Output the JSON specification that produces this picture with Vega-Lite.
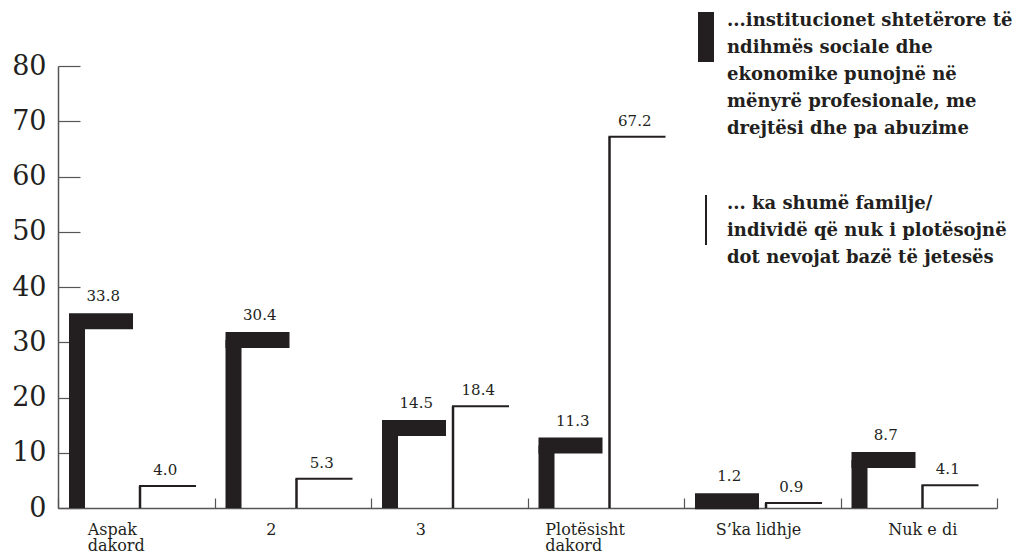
{
  "$schema": "https://vega.github.io/schema/vega-lite/v6.json",
  "width": 939,
  "height": 442,
  "autosize": {"type": "none"},
  "padding": {"left": 58, "top": 66, "right": 26, "bottom": 47},
  "background": "white",
  "config": {
    "view": {"stroke": null},
    "font": "DejaVu Serif",
    "text": {"font": "DejaVu Serif", "color": "#231f20"}
  },
  "data": {
    "values": [
      {"cat": "Aspak dakord", "series": "A", "value": 33.8},
      {"cat": "Aspak dakord", "series": "B", "value": 4.0},
      {"cat": "2", "series": "A", "value": 30.4},
      {"cat": "2", "series": "B", "value": 5.3},
      {"cat": "3", "series": "A", "value": 14.5},
      {"cat": "3", "series": "B", "value": 18.4},
      {"cat": "Plotësisht dakord", "series": "A", "value": 11.3},
      {"cat": "Plotësisht dakord", "series": "B", "value": 67.2},
      {"cat": "S’ka lidhje", "series": "A", "value": 1.2},
      {"cat": "S’ka lidhje", "series": "B", "value": 0.9},
      {"cat": "Nuk e di", "series": "A", "value": 8.7},
      {"cat": "Nuk e di", "series": "B", "value": 4.1}
    ]
  },
  "encoding": {
    "x": {
      "field": "cat",
      "type": "nominal",
      "sort": null,
      "scale": {"domain": ["Aspak dakord", "2", "3", "Plotësisht dakord", "S’ka lidhje", "Nuk e di"], "paddingInner": 0, "paddingOuter": 0},
      "axis": {
        "title": null,
        "labelAngle": 0,
        "domainColor": "#555555",
        "domainWidth": 1.5,
        "tickBand": "extent",
        "tickSize": -10,
        "tickColor": "#555555",
        "tickWidth": 1.2,
        "labelPadding": 23,
        "labelFont": "DejaVu Serif",
        "labelFontSize": 16,
        "labelColor": "#231f20",
        "labelLineHeight": 16,
        "labelAlign": "left",
        "labelBaseline": "top",
        "labelLimit": 200,
        "labelExpr": "datum.value == 'Aspak dakord' ? ['Aspak', 'dakord'] : datum.value == 'Plotësisht dakord' ? ['Plotësisht', 'dakord'] : datum.label",
        "labelOffset": {
          "condition": [
            {"test": "datum.value == 'Aspak dakord'", "value": -49},
            {"test": "datum.value == '2'", "value": -27},
            {"test": "datum.value == '3'", "value": -34},
            {"test": "datum.value == 'Plotësisht dakord'", "value": -61},
            {"test": "datum.value == 'Nuk e di'", "value": -31}
          ],
          "value": -47
        }
      }
    },
    "y": {
      "field": "value",
      "type": "quantitative",
      "scale": {"domain": [0, 80], "nice": false},
      "axis": {
        "title": null,
        "values": [0, 10, 20, 30, 40, 50, 60, 70, 80],
        "grid": false,
        "domainColor": "#555555",
        "domainWidth": 1.5,
        "tickSize": -22,
        "tickColor": "#555555",
        "tickWidth": 1.2,
        "labelPadding": 34,
        "labelFont": "DejaVu Serif",
        "labelFontSize": 27,
        "labelColor": "#231f20"
      }
    }
  },
  "layer": [
    {
      "transform": [{"filter": "datum.series == 'A'"}],
      "mark": {"type": "rule", "xOffset": -59.25, "strokeCap": "butt", "color": "#231f20"},
      "encoding": {
        "y2": {"datum": 0},
        "strokeWidth": {
          "field": "series",
          "type": "nominal",
          "scale": {"type": "ordinal", "domain": ["A", "B"], "range": [16, 2]},
          "legend": {
            "title": null,
            "orient": "none",
            "legendX": 615,
            "legendY": -87,
            "symbolType": "M0,0L0,2",
            "symbolSize": 2500,
            "symbolStrokeColor": "#231f20",
            "symbolFillColor": "transparent",
            "labelFont": "DejaVu Serif",
            "labelFontSize": 18,
            "labelFontWeight": "bold",
            "labelColor": "#231f20",
            "labelLimit": 400,
            "labelBaseline": "top",
            "labelOffset": -12,
            "rowPadding": 31,
            "encode": {"labels": {"update": {"lineHeight": {"value": 27}}}},
            "labelExpr": "datum.value == 'A' ? ['...institucionet shtetërore të', 'ndihmës sociale dhe', 'ekonomike punojnë në', 'mënyrë profesionale, me', 'drejtësi dhe pa abuzime'] : ['... ka shumë familje/', 'individë që nuk i plotësojnë', 'dot nevojat bazë të jetesës']"
          }
        }
      }
    },
    {
      "transform": [{"filter": "datum.series == 'B'"}],
      "mark": {"type": "rule", "xOffset": 3.75, "strokeCap": "butt", "color": "#231f20"},
      "encoding": {
        "y2": {"datum": 0},
        "strokeWidth": {"field": "series", "type": "nominal", "legend": null}
      }
    },
    {
      "transform": [{"filter": "datum.series == 'A'"}],
      "mark": {"type": "tick", "orient": "horizontal", "xOffset": -35.25, "size": 64, "thickness": 16, "color": "#231f20", "opacity": 1}
    },
    {
      "transform": [{"filter": "datum.series == 'B'"}],
      "mark": {"type": "tick", "orient": "horizontal", "xOffset": 31.25, "size": 57, "thickness": 2, "color": "#231f20", "opacity": 1}
    },
    {
      "transform": [{"filter": "datum.series == 'A'"}],
      "mark": {"type": "text", "xOffset": -33, "dy": -20, "baseline": "alphabetic", "align": "center", "fontSize": 15},
      "encoding": {"text": {"field": "value", "type": "quantitative", "format": ".1f"}}
    },
    {
      "transform": [{"filter": "datum.series == 'B'"}],
      "mark": {"type": "text", "xOffset": 29, "dy": -11, "baseline": "alphabetic", "align": "center", "fontSize": 15},
      "encoding": {"text": {"field": "value", "type": "quantitative", "format": ".1f"}}
    }
  ]
}
